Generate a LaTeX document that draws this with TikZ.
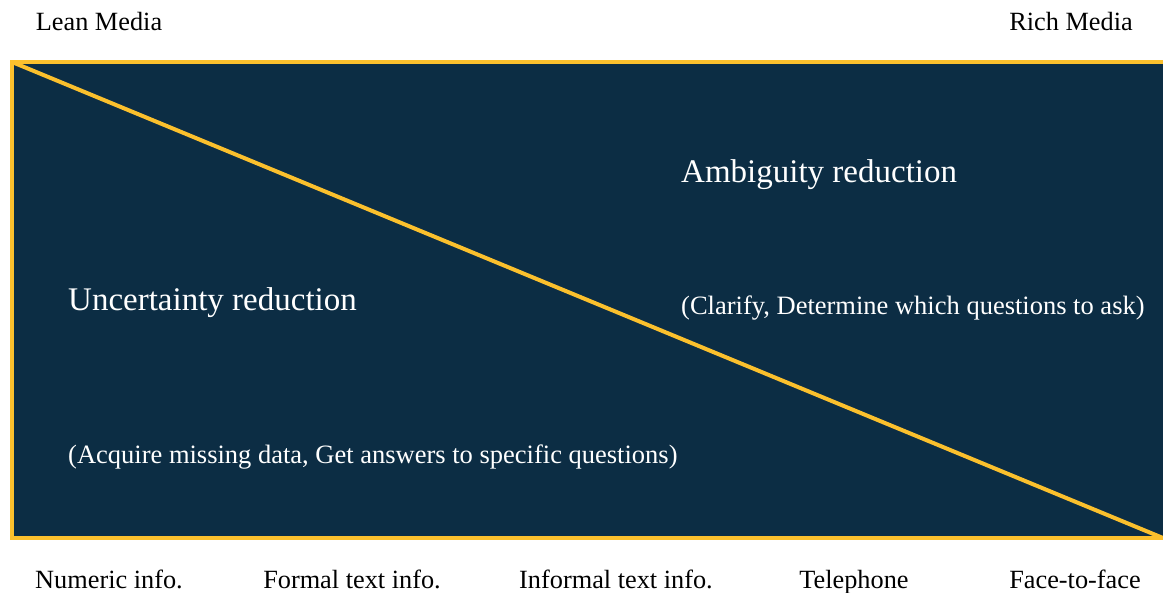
\documentclass[tikz,border=0pt]{standalone}
\usepackage{fontspec}
\setmainfont{Liberation Serif}
\definecolor{panel}{HTML}{0C2D44}
\definecolor{gold}{HTML}{FBC02D}
\tikzset{
  axislabel/.style={font=\fontsize{26.3}{30}\selectfont, text=black, inner sep=0pt, anchor=base},
  heading/.style={font=\fontsize{33}{38}\selectfont, text=white, inner sep=0pt, anchor=base west},
  note/.style={font=\fontsize{26.5}{30}\selectfont, text=white, inner sep=0pt, anchor=base west},
}
\begin{document}
\begin{tikzpicture}[x=1pt,y=-1pt]
  \useasboundingbox (0,0) rectangle (1163,593);
  \clip (0,0) rectangle (1163,593);
  % framed panel, its right side running off the edge
  \draw[gold, line width=4pt, fill=panel] (12,62) rectangle (1175,538);
  \coordinate (tl) at (12,62);
  \coordinate (br) at (1163,538);
  \draw[gold, line width=4pt, line cap=round] (tl) -- (br);
  % scale ends
  \node[axislabel] (lean) at (99,31) {Lean Media};
  \node[axislabel] (rich) at (1071,31) {Rich Media};
  % regions
  \node[heading] (amb) at (681,183) {Ambiguity reduction};
  \node[note] (ambn) at (681,315) {(Clarify, Determine which questions to ask)};
  \node[heading] (unc) at (68,311) {Uncertainty reduction};
  \node[note] (uncn) at (68,464) {(Acquire missing data, Get answers to specific questions)};
  % media along the bottom
  \node[axislabel] (m1) at (109,589) {Numeric info.};
  \node[axislabel] (m2) at (352,589) {Formal text info.};
  \node[axislabel] (m3) at (616,589) {Informal text info.};
  \node[axislabel] (m4) at (854,589) {Telephone};
  \node[axislabel] (m5) at (1075,589) {Face-to-face};
\end{tikzpicture}
\end{document}
